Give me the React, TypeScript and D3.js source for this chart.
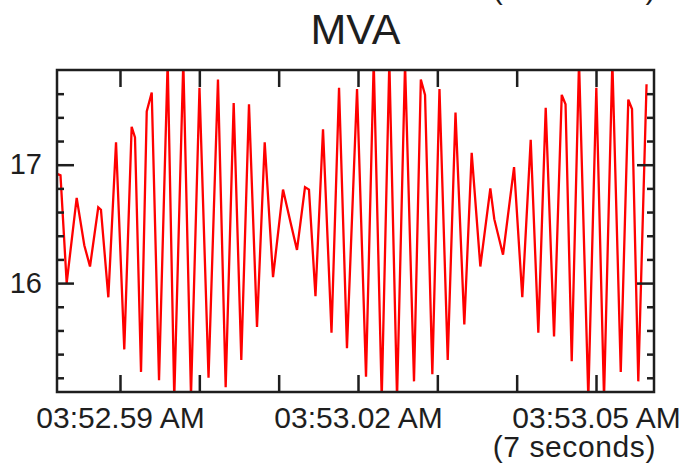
import * as d3 from "d3";
import { useEffect, useRef } from "react";

// sample times, in seconds after 03:52:59 AM
const secs = [
  -0.785, -0.75, -0.672, -0.546, -0.45, -0.378, -0.274, -0.24, -0.147, -0.05,
  0.054, 0.147, 0.189, 0.265, 0.337, 0.4, 0.492, 0.601, 0.684, 0.798,
  0.895, 1.002, 1.116, 1.235, 1.332, 1.433, 1.529, 1.626, 1.727, 1.824,
  1.929, 2.055, 2.147, 2.231, 2.332, 2.382, 2.464, 2.559, 2.666, 2.761,
  2.861, 2.988, 3.101, 3.198, 3.299, 3.395, 3.492, 3.593, 3.706, 3.792,
  3.845, 3.937, 4.027, 4.131, 4.229, 4.34, 4.433, 4.542, 4.668, 4.718,
  4.828, 4.967, 5.071, 5.177, 5.273, 5.366, 5.471, 5.568, 5.616, 5.694,
  5.786, 5.903, 6.004, 6.101, 6.206, 6.312, 6.407, 6.454, 6.533, 6.637,
];
const mva = [
  16.92, 16.91, 16.0, 16.72, 16.32, 16.14, 16.64, 16.62, 15.88, 17.19,
  15.44, 17.32, 17.23, 15.25, 17.45, 17.61, 15.18, 17.87, 15.03, 17.87,
  15.05, 17.65, 15.2, 17.72, 15.12, 17.52, 15.35, 17.51, 15.63, 17.19,
  16.05, 16.79, 16.52, 16.28, 16.81, 16.79, 15.89, 17.3, 15.58, 17.65,
  15.45, 17.64, 15.21, 17.87, 15.03, 17.87, 15.03, 17.85, 15.17, 17.72,
  17.59, 15.23, 17.64, 15.35, 17.44, 15.65, 17.1, 16.14, 16.8, 16.54,
  16.24, 16.98, 15.88, 17.21, 15.58, 17.48, 15.55, 17.59, 17.51, 15.34,
  17.87, 15.03, 17.65, 15.03, 17.87, 15.25, 17.55, 17.47, 15.17, 17.68,
];

const yMajor = [16, 17];
const yMinor = [15.2, 15.4, 15.6, 15.8, 16.2, 16.4, 16.6, 16.8, 17.2, 17.4, 17.6];
const labelSecs = [0, 3, 6];

const t0 = new Date(2024, 0, 1, 3, 52, 59);
const at = (s: number) => new Date(t0.getTime() + s * 1000);

export default function App() {
  const ref = useRef<SVGSVGElement>(null);

  useEffect(() => {
    const svg = d3.select(ref.current);
    svg.selectAll("*").remove();

    const left = 57, right = 654, top = 70, bottom = 392;
    const font = "'Liberation Sans', Arial, sans-serif";
    const ink = "#1e1e1e";

    const x = d3.scaleTime().domain([at(-0.794), at(6.731)]).range([left, right]);
    const y = d3.scaleLinear().domain([15.08, 17.8]).range([bottom, top]);

    svg.append("clipPath").attr("id", "plot")
      .append("rect").attr("x", left).attr("y", top)
      .attr("width", right - left).attr("height", bottom - top);

    // title, and the tail of the label of the chart above
    svg.append("text").attr("x", (left + right) / 2).attr("y", 44)
      .attr("text-anchor", "middle").style("font", `43px ${font}`).attr("fill", ink)
      .text("MVA");
    svg.append("text").attr("x", 656).attr("y", -1)
      .attr("text-anchor", "end").style("font", `30px ${font}`).style("letter-spacing", "0.6px")
      .attr("fill", ink).text("(7 seconds)");

    // line
    const pts = secs.map((s, i) => [at(s), mva[i]] as [Date, number]);
    const line = d3.line<[Date, number]>().x((d) => x(d[0])).y((d) => y(d[1]));
    svg.append("path").attr("d", line(pts)).attr("clip-path", "url(#plot)")
      .attr("fill", "none").attr("stroke", "#ff0000").attr("stroke-width", 2.3)
      .attr("stroke-linejoin", "miter");

    const xTicks = d3.timeSecond.every(1)!.range(at(-0.794), at(6.8));
    const labelled = new Set(labelSecs.map((s) => at(s).getTime()));
    const fmt = d3.timeFormat("%I:%M.%S %p");

    const style = (g: d3.Selection<SVGGElement, unknown, null, undefined>, size = 30) => {
      g.select(".domain").remove();
      g.selectAll("line").attr("stroke", ink).attr("stroke-width", 2.5);
      g.selectAll("text").style("font", `${size}px ${font}`).attr("fill", ink);
    };

    svg.append("g").attr("transform", `translate(0,${bottom})`)
      .call(d3.axisBottom(x).tickValues(xTicks).tickSize(-17).tickPadding(15)
        .tickFormat((d) => (labelled.has((d as Date).getTime()) ? fmt(d as Date) : "")))
      .call(style);
    svg.append("g").attr("transform", `translate(0,${top})`)
      .call(d3.axisTop(x).tickValues(xTicks).tickSize(-17).tickFormat(() => ""))
      .call(style);

    svg.append("g").attr("transform", `translate(${left},0)`)
      .call(d3.axisLeft(y).tickValues(yMajor).tickSize(-17).tickPadding(15).tickFormat(d3.format("d")))
      .call(style, 29);
    svg.append("g").attr("transform", `translate(${left},0)`)
      .call(d3.axisLeft(y).tickValues(yMinor).tickSize(-7).tickFormat(() => ""))
      .call(style);
    svg.append("g").attr("transform", `translate(${right},0)`)
      .call(d3.axisRight(y).tickValues(yMajor).tickSize(-17).tickFormat(() => ""))
      .call(style);
    svg.append("g").attr("transform", `translate(${right},0)`)
      .call(d3.axisRight(y).tickValues(yMinor).tickSize(-7).tickFormat(() => ""))
      .call(style);

    // frame
    svg.append("rect").attr("x", left).attr("y", top)
      .attr("width", right - left).attr("height", bottom - top)
      .attr("fill", "none").attr("stroke", ink).attr("stroke-width", 2.5);

    svg.append("text").attr("x", 656).attr("y", 457)
      .attr("text-anchor", "end").style("font", `30px ${font}`).style("letter-spacing", "0.6px")
      .attr("fill", ink).text("(7 seconds)");
  }, []);

  return (
    <svg ref={ref} width={686} height={470}
      style={{ position: "absolute", left: 0, top: 0, background: "#fff" }} />
  );
}
